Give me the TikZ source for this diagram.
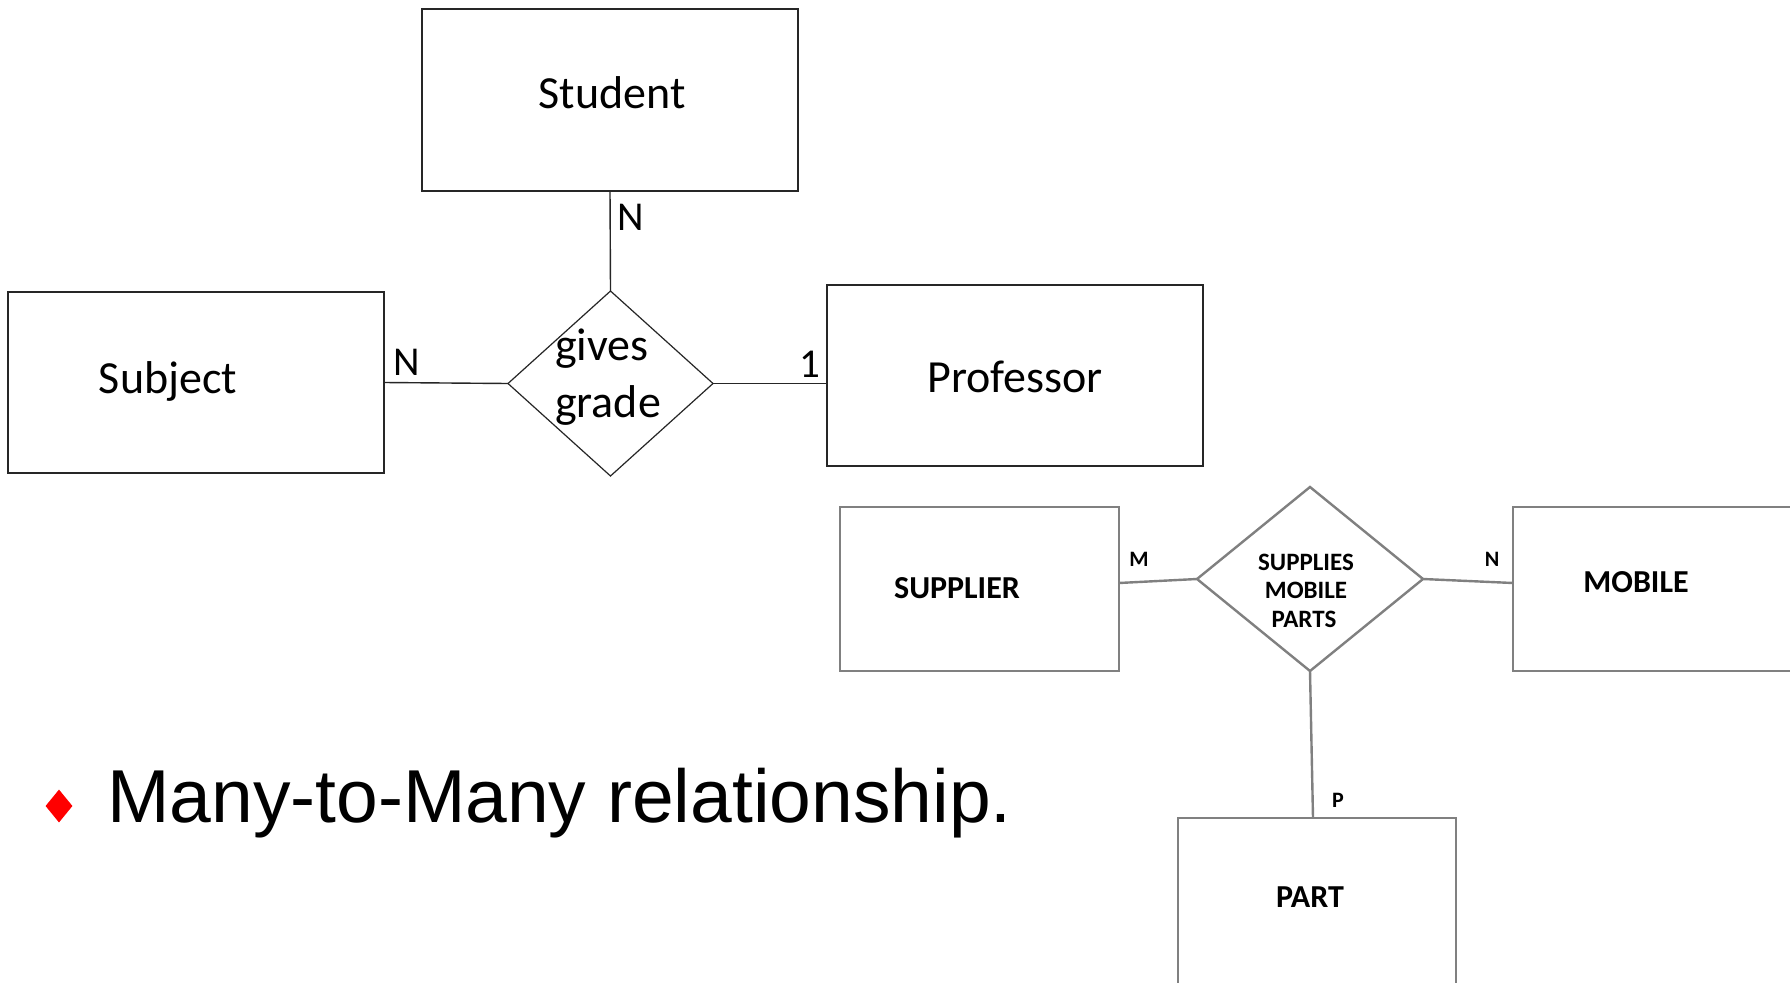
\documentclass[tikz,border=0pt]{standalone}
\usepackage{fontspec}
\setmainfont{Carlito}
\newfontfamily\arialfont{Liberation Sans}
\usetikzlibrary{shapes.geometric}

\tikzset{
  % first diagram: thin dark outlines, regular Calibri-like text
  ebox/.style={draw=black!85, line width=1.4pt, rectangle, inner sep=0pt, outer sep=0pt},
  rel/.style={draw=black!85, line width=1.2pt, diamond, inner sep=0pt, outer sep=0pt},
  link/.style={draw=black!85, line width=1.4pt},
  lbl/.style={font=\fontsize{46}{55}\selectfont, anchor=base, inner sep=0pt},
  card/.style={font=\fontsize{41}{49}\selectfont, anchor=base, inner sep=0pt},
  % second diagram: grey outlines, bold caps
  gbox/.style={draw=black!50, line width=2.4pt, rectangle, inner sep=0pt, outer sep=0pt},
  grel/.style={draw=black!50, line width=2.4pt, diamond, inner sep=0pt, outer sep=0pt},
  glink/.style={draw=black!50, line width=2.4pt},
  blbl/.style={font=\fontsize{32}{38}\selectfont\bfseries, anchor=base, inner sep=0pt},
  slbl/.style={font=\fontsize{25}{29}\selectfont\bfseries, anchor=base, inner sep=0pt},
  bcard/.style={font=\fontsize{22}{26}\selectfont\bfseries, anchor=base, inner sep=0pt},
}

\begin{document}
\begin{tikzpicture}[x=1pt, y=-1pt]
  \useasboundingbox (0,0) rectangle (1790,982);
  \clip (0,0) rectangle (1790,982);
  \fill[white] (0,0) rectangle (1790,982);

  % ---- Student / Subject / Professor ----
  \node[ebox, minimum width=376pt, minimum height=182pt] (stu)  at (610,100)    {};
  \node[ebox, minimum width=376pt, minimum height=181pt] (subj) at (196,382.5)  {};
  \node[ebox, minimum width=376pt, minimum height=181pt] (prof) at (1015,375.5) {};
  \node[rel,  minimum width=205pt, minimum height=185pt] (gg)   at (610.5,383.5) {};

  \node[lbl] (tstu)  at (612,108)  {Student};
  \node[lbl] (tsubj) at (168,393)  {Subject};
  \node[lbl] (tprof) at (1015,392) {Professor};
  \node[lbl] (tgg1)  at (602,360)  {gives};
  \node[lbl] (tgg2)  at (608,417)  {grade};

  \draw[link] (stu.south) -- (gg.north);
  \draw[link] (subj.east) -- (gg.west);
  \draw[link] (gg.east) -- (gg.east -| prof.west);

  \node[card] (cstu)  at (631,230) {N};
  \node[card] (csubj) at (407,375) {N};
  \node[card] (cprof) at (810,377) {1};

  % ---- Supplier / Mobile / Part ----
  \node[gbox, minimum width=279pt, minimum height=164pt] (sup)  at (979.5,589)  {};
  \node[gbox, minimum width=290pt, minimum height=164pt] (mob)  at (1658,589)   {};
  \node[gbox, minimum width=278pt, minimum height=190pt] (part) at (1317,913)   {};
  \node[grel, minimum width=226pt, minimum height=184pt] (smp)  at (1310,579)   {};

  \node[blbl] (tsup)  at (957,598)  {SUPPLIER};
  \node[blbl] (tmob)  at (1636,592) {MOBILE};
  \node[blbl] (tpart) at (1310,907) {PART};
  \node[slbl] (ts1)   at (1306,570) {SUPPLIES};
  \node[slbl] (ts2)   at (1306,598) {MOBILE};
  \node[slbl] (ts3)   at (1304,627) {PARTS};

  \draw[glink] ([yshift=6pt]sup.east) -- (smp.west);
  \draw[glink] (smp.east) -- ([yshift=6pt]mob.west);
  \draw[glink] (smp.south) -- ([xshift=-4pt]part.north);

  \node[bcard] (csup)  at (1139,566) {M};
  \node[bcard] (cmob)  at (1492,566) {N};
  \node[bcard] (cpart) at (1338,807) {P};

  % ---- bullet line ----
  \node[fill=red, diamond, inner sep=0pt, minimum width=27pt, minimum height=33pt] (bul) at (59,806) {};
  \node[font=\arialfont\fontsize{75}{90}\selectfont, anchor=base west, inner sep=0pt] (btxt) at (107,822) {Many-to-Many relationship.};
\end{tikzpicture}
\end{document}
